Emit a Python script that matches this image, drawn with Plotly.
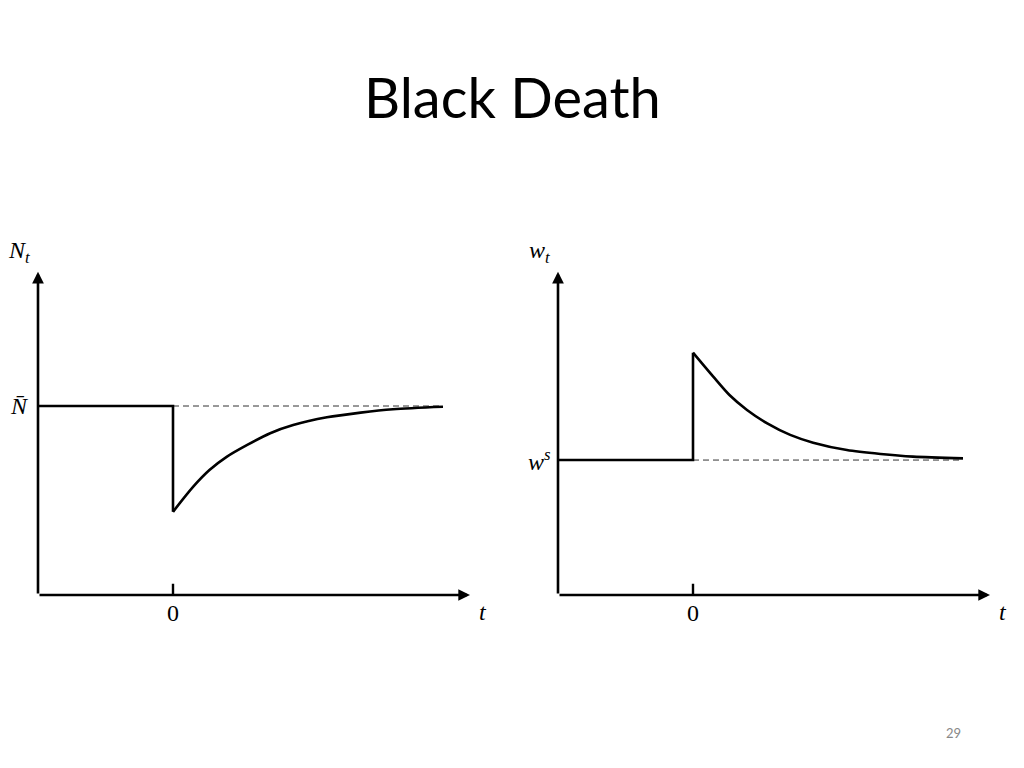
import plotly.graph_objects as go

# time after the shock and the level of each series
t_pre = [-1.0, 0.0]
n_bar = 1.0
w_s = 0.714

t_post = [0.0, 0.15, 0.27, 0.40, 0.55, 0.72, 0.89, 1.14, 1.39, 1.63, 2.0]
n_post = [0.44, 0.573, 0.661, 0.732, 0.794, 0.856, 0.899, 0.94, 0.965, 0.983, 0.996]
w_post = [1.282, 1.155, 1.058, 0.979, 0.908, 0.847, 0.806, 0.767, 0.746, 0.732, 0.723]

t_end = 2.0
t_arrow = 2.2
y_arrow = 1.71

px_x = 135.0   # px per unit t
px_y = 189.0   # px per unit y
OFF = 8        # page body margin
W, H = 1024 - 2 * OFF, 768 - 2 * OFF
base_y = 595 - OFF

serif = "Liberation Serif"
ink = "black"

fig = go.Figure()


def px(x, y):
    # screen pixel -> paper coords
    return (x - OFF) / W, (H - (y - OFF)) / H


def line(xa, ya, x, y, **kw):
    fig.add_trace(go.Scatter(x=x, y=y, mode="lines", line=kw, xaxis=xa, yaxis=ya,
                             showlegend=False, hoverinfo="skip"))


def panel(xa, ya, x0_px, level, post, ylab, lvlab, lvl_y):
    # x0_px: screen pixel of t = 0
    x0 = x0_px - OFF
    xr = [-1.1, 2.3]
    yr = [-0.1, 1.8]
    xd = [(x0 + xr[0] * px_x) / W, (x0 + xr[1] * px_x) / W]
    yd = [(H - (base_y - yr[0] * px_y)) / H, (H - (base_y - yr[1] * px_y)) / H]
    fig.update_layout({
        "xaxis" + xa[1:]: dict(domain=xd, range=xr, visible=False, fixedrange=True),
        "yaxis" + ya[1:]: dict(domain=yd, range=yr, visible=False, fixedrange=True),
    })
    # dashed steady state
    line(xa, ya, [0, t_end], [level, level], color="#333", width=1, dash="6px,4px")
    # path before the shock and the jump
    line(xa, ya, t_pre + [t_post[0]], [level, level, post[0]], color=ink, width=2.6)
    # path after the shock
    line(xa, ya, t_post, post, color=ink, width=2.6, shape="spline", smoothing=0.8)
    # tick at zero
    line(xa, ya, [0, 0], [0, 0.06], color=ink, width=2.4)
    # axes with arrows
    for (ax_, ay_, x_, y_) in [(-1, 0, t_arrow, 0), (-1, 0, -1, y_arrow)]:
        fig.add_annotation(x=x_, y=y_, ax=ax_, ay=ay_, xref=xa, yref=ya,
                           axref=xa, ayref=ya, showarrow=True, arrowhead=2,
                           arrowsize=0.9, arrowwidth=2.6, arrowcolor=ink, text="")
    lab = dict(xref="paper", yref="paper", showarrow=False, xanchor="center",
               yanchor="middle", font=dict(family=serif, size=24, color=ink))
    ax0 = x0_px - 135
    for (sx, sy, txt) in [(ax0 - 19, 252, ylab), (ax0 - 19, lvl_y, lvlab),
                          (x0_px, 613, "0"), (x0_px + 310, 612, "<i>t</i>")]:
        u, v = px(sx, sy)
        fig.add_annotation(x=u, y=v, text=txt, **lab)


panel("x", "y", 173, n_bar, n_post, "<i>N<sub>t</sub></i>", "<i>N\u0304</i>", 406)
panel("x2", "y2", 693, w_s, w_post, "<i>w<sub>t</sub></i>", "<i>w<sup>s</sup></i>", 460)

u, v = px(512, 97)
fig.add_annotation(x=u, y=v, xref="paper", yref="paper", showarrow=False,
                   xanchor="center", yanchor="middle",
                   text="Black Death", font=dict(family="Lato", size=56, color="black"))
u, v = px(953, 733)
fig.add_annotation(x=u, y=v, xref="paper", yref="paper", showarrow=False,
                   xanchor="center", yanchor="middle",
                   text="29", font=dict(family="Lato", size=13, color="#888"))

fig.update_layout(width=W, height=H, margin=dict(l=0, r=0, t=0, b=0),
                  paper_bgcolor="white", plot_bgcolor="white")

fig.write_html("out.html")
